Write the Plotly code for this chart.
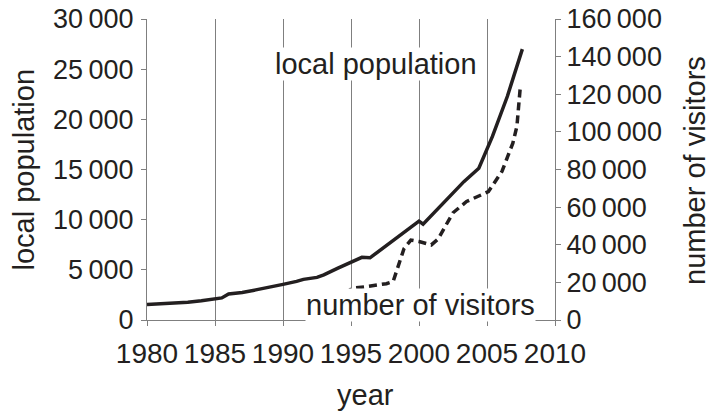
import plotly.graph_objects as go

# ---- data ----
pop_year = [1980, 1981, 1982, 1983, 1984, 1985, 1985.5, 1986, 1987, 1988, 1989, 1990,
            1991, 1991.5, 1992.5, 1993, 1994, 1995, 1995.8, 1996.4, 1997, 1998, 1999,
            2000, 2000.3, 2001, 2002, 2003, 2003.3, 2004.4, 2005.4, 2006.5, 2007.6]
population = [1550, 1600, 1680, 1780, 1920, 2100, 2200, 2600, 2750, 3000, 3250, 3550,
              3850, 4050, 4250, 4500, 5150, 5800, 6250, 6200, 6800, 7800, 8800,
              9850, 9550, 10530, 11950, 13360, 13790, 15120, 18300, 22300, 27000]

vis_year = [1994.55, 1995.1, 1996.1, 1997.6, 1998.1, 1998.9, 1999.4, 2000.0, 2000.9,
            2001.4, 2002.5, 2003.5, 2005.1, 2006.1, 2006.9, 2007.2, 2007.45]
visitors = [14000, 16900, 17700, 19300, 20500, 38000, 42500, 41700, 39900,
            43000, 57000, 63000, 68200, 79000, 94000, 103000, 124000]

x_ticks = [1980, 1985, 1990, 1995, 2000, 2005, 2010]
SP = "\u2009"
left_ticks = [0, 5000, 10000, 15000, 20000, 25000, 30000]
left_text = ["0", "5" + SP + "000", "10" + SP + "000", "15" + SP + "000", "20" + SP + "000",
             "25" + SP + "000", "30" + SP + "000"]
right_ticks = [0, 20000, 40000, 60000, 80000, 100000, 120000, 140000, 160000]
right_text = ["0", "20" + SP + "000", "40" + SP + "000", "60" + SP + "000", "80" + SP + "000",
              "100" + SP + "000", "120" + SP + "000", "140" + SP + "000", "160" + SP + "000"]

INK = "#231f20"
GRAY = "#7f7f7f"
FONT = "Liberation Sans, Arial, sans-serif"

fig = go.Figure()
fig.add_trace(go.Scatter(x=pop_year, y=population, mode="lines",
                         line=dict(color=INK, width=3.5), yaxis="y", showlegend=False))
fig.add_trace(go.Scatter(x=vis_year, y=visitors, mode="lines",
                         line=dict(color=INK, width=3.5, dash="8px,5px"), yaxis="y2",
                         showlegend=False))

tick_font = dict(family=FONT, size=27, color=INK)
fig.update_layout(
    width=712, height=412,
    margin=dict(l=147, r=157, t=19, b=92, autoexpand=False),
    paper_bgcolor="white", plot_bgcolor="white",
    font=dict(family=FONT, size=28, color=INK),
    hovermode=False,
    xaxis=dict(range=[1980, 2010], tickvals=x_ticks, showgrid=True, gridcolor=GRAY,
               gridwidth=1, showline=True, linecolor=GRAY, linewidth=1,
               ticks="outside", ticklen=5, tickcolor=GRAY, zeroline=False,
               tickfont=dict(family=FONT, size=28, color=INK), automargin=False,
               ticklabelstandoff=3, ticklabeloverflow="allow"),
    yaxis=dict(range=[0, 30000], tickvals=left_ticks, ticktext=left_text, showgrid=False,
               showline=True, linecolor=GRAY, linewidth=1, ticks="outside", ticklen=5,
               tickcolor=GRAY, zeroline=False, tickfont=tick_font, automargin=False,
               ticklabelstandoff=2, ticklabeloverflow="allow"),
    yaxis2=dict(range=[0, 160000], tickvals=right_ticks, ticktext=right_text,
                overlaying="y", side="right", showgrid=False, showline=True,
                linecolor=GRAY, linewidth=1, ticks="outside", ticklen=5, tickcolor=GRAY,
                zeroline=False, tickfont=tick_font, automargin=False,
                ticklabelstandoff=0, ticklabeloverflow="allow"),
)

ann_font = dict(family=FONT, size=29, color=INK)
fig.add_annotation(text="local population", xref="paper", yref="paper",
                   x=(376 - 147) / 408, y=(320 - 64) / 301, xanchor="center",
                   yanchor="middle", showarrow=False, bgcolor="white", font=ann_font,
                   borderpad=0)
fig.add_annotation(text="number of visitors", xref="paper", yref="paper",
                   x=(420 - 147) / 408, y=(320 - 305) / 301, xanchor="center",
                   yanchor="middle", showarrow=False, bgcolor="white", font=ann_font,
                   borderpad=0)
fig.add_annotation(text="local population", xref="paper", yref="paper",
                   x=(23 - 147) / 408, y=0.5, xanchor="center", yanchor="middle",
                   textangle=-90, showarrow=False, font=ann_font)
fig.add_annotation(text="number of visitors", xref="paper", yref="paper",
                   x=(695 - 147) / 408, y=(320 - 171) / 301, xanchor="center",
                   yanchor="middle", textangle=-90, showarrow=False, font=ann_font)
fig.add_annotation(text="year", xref="paper", yref="paper",
                   x=(365 - 147) / 408, y=(320 - 395) / 301, xanchor="center",
                   yanchor="middle", showarrow=False, font=ann_font)

fig.write_html("out.html", config={"displayModeBar": False},
               post_script="document.body.style.margin='0';")
